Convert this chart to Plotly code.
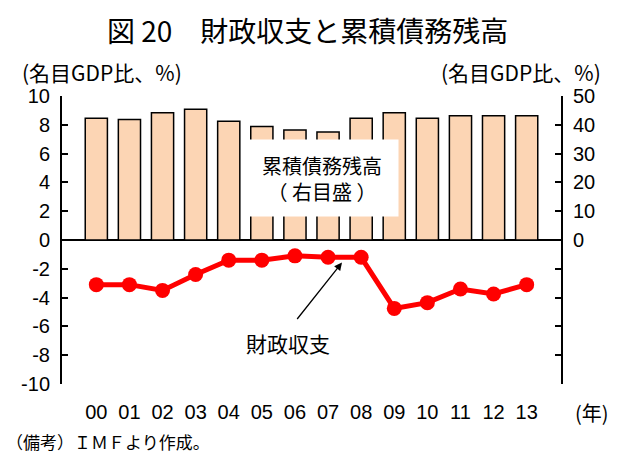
import plotly.graph_objects as go

years = ["00", "01", "02", "03", "04", "05", "06", "07", "08", "09", "10", "11", "12", "13"]
debt = [42.3, 41.8, 44.2, 45.4, 41.2, 39.4, 38.2, 37.5, 42.3, 44.2, 42.3, 43.1, 43.1, 43.1]
balance = [-3.1, -3.1, -3.5, -2.4, -1.4, -1.4, -1.1, -1.2, -1.2, -4.75, -4.35, -3.4, -3.75, -3.1]
left_ticks = [-10, -8, -6, -4, -2, 0, 2, 4, 6, 8, 10]
left_text = ["-10", "-8", "-6", "-4", "-2", "0", "2", "4", "6", "8", "10"]
right_ticks = [-50, -40, -30, -20, -10, 0, 10, 20, 30, 40, 50]
right_text = ["", "", "", "", "", "0", "10", "20", "30", "40", "50"]

JP = "Noto Sans CJK JP"
NUM = "Liberation Sans"
PW, PH, L, B = 499, 288, 62, 75


def px(x):
    return (x - L) / PW


def py(y):
    return (459 - B - y) / PH


fig = go.Figure()
fig.add_trace(go.Bar(
    x=years, y=debt, yaxis="y2",
    marker=dict(color="#FCD5B4", line=dict(color="black", width=1.5)),
    hoverinfo="skip",
))
fig.add_trace(go.Scatter(
    x=years, y=balance, yaxis="y",
    mode="lines+markers",
    line=dict(color="#FF0000", width=5),
    marker=dict(color="#FF0000", size=15),
))

fig.update_layout(
    width=623, height=459,
    margin=dict(l=L, r=62, t=96, b=B),
    plot_bgcolor="white", paper_bgcolor="white",
    showlegend=False,
    bargap=0.33,
    xaxis=dict(
        type="category", showline=False, ticks="", showgrid=False,
        tickfont=dict(family=NUM, size=20, color="black"),
        ticklabelstandoff=14,
    ),
    yaxis=dict(
        range=[-10, 10], tickvals=left_ticks, ticktext=left_text, showgrid=False,
        showline=True, linecolor="black", linewidth=2,
        ticks="inside", ticklen=6, tickwidth=1.5, tickcolor="black",
        zeroline=True, zerolinecolor="black", zerolinewidth=2,
        tickfont=dict(family=NUM, size=20, color="black"),
        ticklabelstandoff=6,
    ),
    yaxis2=dict(
        range=[-50, 50], tickvals=right_ticks, ticktext=right_text,
        overlaying="y", side="right", showgrid=False, zeroline=False,
        showline=True, linecolor="black", linewidth=2,
        ticks="inside", ticklen=6, tickwidth=1.5, tickcolor="black",
        tickfont=dict(family=NUM, size=20, color="black"),
        ticklabelstandoff=6,
    ),
)

fig.add_annotation(text="図 20　財政収支と累積債務残高", xref="paper", yref="paper",
                   x=px(307), y=py(30), xanchor="center", yanchor="middle",
                   showarrow=False, font=dict(family=JP, size=28, color="black"))
fig.add_annotation(text="(名目GDP比、%)", xref="paper", yref="paper",
                   x=px(20), y=py(72), xanchor="left", yanchor="middle",
                   showarrow=False, font=dict(family=JP, size=21, color="black"))
fig.add_annotation(text="(名目GDP比、%)", xref="paper", yref="paper",
                   x=px(603), y=py(72), xanchor="right", yanchor="middle",
                   showarrow=False, font=dict(family=JP, size=21, color="black"))
fig.add_annotation(text="累積債務残高<br>（ 右目盛 ）", xref="paper", yref="paper",
                   x=px(322), y=py(178), xanchor="center", yanchor="middle",
                   showarrow=False, bgcolor="white", width=150, height=74, align="center",
                   font=dict(family=JP, size=20, color="black"))
fig.add_annotation(text="財政収支", xref="paper", yref="paper",
                   x=px(288), y=py(343), xanchor="center", yanchor="middle",
                   showarrow=False, font=dict(family=JP, size=21, color="black"))
fig.add_annotation(xref="paper", yref="paper", axref="pixel", ayref="pixel",
                   x=px(342), y=py(262.5),
                   ax=-46, ay=58, showarrow=True, arrowhead=2, arrowsize=1.2,
                   arrowwidth=1.3, arrowcolor="black", text="")
fig.add_annotation(text="(年)", xref="paper", yref="paper",
                   x=px(592), y=py(412), xanchor="center", yanchor="middle",
                   showarrow=False, font=dict(family=JP, size=20, color="black"))
fig.add_annotation(text="（備考）ＩＭＦより作成。", xref="paper", yref="paper",
                   x=px(4), y=py(441), xanchor="left", yanchor="middle",
                   showarrow=False, font=dict(family=JP, size=17, color="black"))

fig.write_html("out.html", config={"displayModeBar": False},
               post_script="document.body.style.margin='0';document.body.style.padding='0';")
